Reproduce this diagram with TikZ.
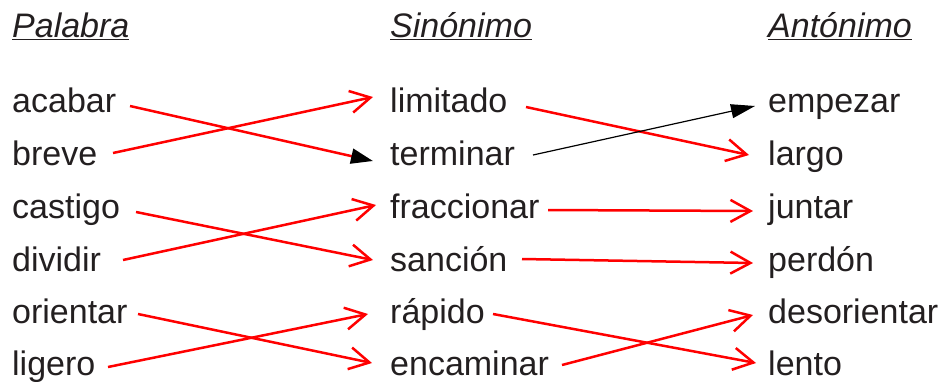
\documentclass[tikz,border=0pt]{standalone}
\usepackage{fontspec}
\setmainfont{Liberation Sans}
\usetikzlibrary{arrows.meta}
\definecolor{inkgray}{RGB}{35,31,32}
\definecolor{linkred}{RGB}{255,0,0}

\begin{document}
\begin{tikzpicture}[x=1pt,y=-1pt,
  word/.style={anchor=base west,inner sep=0pt,text=inkgray,font=\fontsize{34}{40}\selectfont},
  heading/.style={word,font=\fontsize{34}{40}\selectfont\itshape},
  pair/.style={draw=linkred,line width=2.5pt,-{Straight Barb[length=20pt,width=22pt]}},
  blackhead/.style={-{Triangle[length=22pt,width=15pt,black]}},
  thinlink/.style={draw=black,line width=1.2pt,-{Triangle[length=24pt,width=14pt]}}]
\useasboundingbox (0,0) rectangle (942,381);

\node[heading] (hPal) at (12,37) {\underline{Palabra}};
\node[heading] (hSin) at (390,37) {\underline{Sinónimo}};
\node[heading] (hAnt) at (768,37) {\underline{Antónimo}};

\node[word] (acabar) at (12,112) {acabar};
\node[word] (breve) at (12,165) {breve};
\node[word] (castigo) at (12,218) {castigo};
\node[word] (dividir) at (12,271) {dividir};
\node[word] (orientar) at (12,323) {orientar};
\node[word] (ligero) at (12,375) {ligero};

\node[word] (limitado) at (390,112) {limitado};
\node[word] (terminar) at (390,165) {terminar};
\node[word] (fraccionar) at (390,218) {fraccionar};
\node[word] (sancion) at (390,271) {sanción};
\node[word] (rapido) at (390,323) {rápido};
\node[word] (encaminar) at (390,375) {encaminar};

\node[word] (empezar) at (768,112) {empezar};
\node[word] (largo) at (768,165) {largo};
\node[word] (juntar) at (768,218) {juntar};
\node[word] (perdon) at (768,271) {perdón};
\node[word] (desorientar) at (768,323) {desorientar};
\node[word] (lento) at (768,375) {lento};

\draw[pair,blackhead] ([xshift=118pt,yshift=6pt]acabar.base west) -- ([xshift=-17pt,yshift=4pt]terminar.base west);
\draw[pair] ([xshift=101pt,yshift=12pt]breve.base west) -- ([xshift=-17pt,yshift=15pt]limitado.base west);
\draw[pair] ([xshift=124pt,yshift=6pt]castigo.base west) -- ([xshift=-17pt,yshift=11pt]sancion.base west);
\draw[pair] ([xshift=111pt,yshift=11pt]dividir.base west) -- ([xshift=-14pt,yshift=13pt]fraccionar.base west);
\draw[pair] ([xshift=126pt,yshift=9pt]orientar.base west) -- ([xshift=-18pt,yshift=12pt]encaminar.base west);
\draw[pair] ([xshift=96pt,yshift=8pt]ligero.base west) -- ([xshift=-22pt,yshift=9pt]rapido.base west);

\draw[pair] ([xshift=136pt,yshift=5pt]limitado.base west) -- ([xshift=-19pt,yshift=10pt]largo.base west);
\draw[thinlink] ([xshift=143pt,yshift=10pt]terminar.base west) -- ([xshift=-13pt,yshift=6pt]empezar.base west);
\draw[pair] ([xshift=158pt,yshift=8pt]fraccionar.base west) -- ([xshift=-15pt,yshift=7pt]juntar.base west);
\draw[pair] ([xshift=132pt,yshift=12pt]sancion.base west) -- ([xshift=-15pt,yshift=8pt]perdon.base west);
\draw[pair] ([xshift=103pt,yshift=9pt]rapido.base west) -- ([xshift=-12pt,yshift=12pt]lento.base west);
\draw[pair] ([xshift=172pt,yshift=10pt]encaminar.base west) -- ([xshift=-15pt,yshift=8pt]desorientar.base west);
\end{tikzpicture}
\end{document}
